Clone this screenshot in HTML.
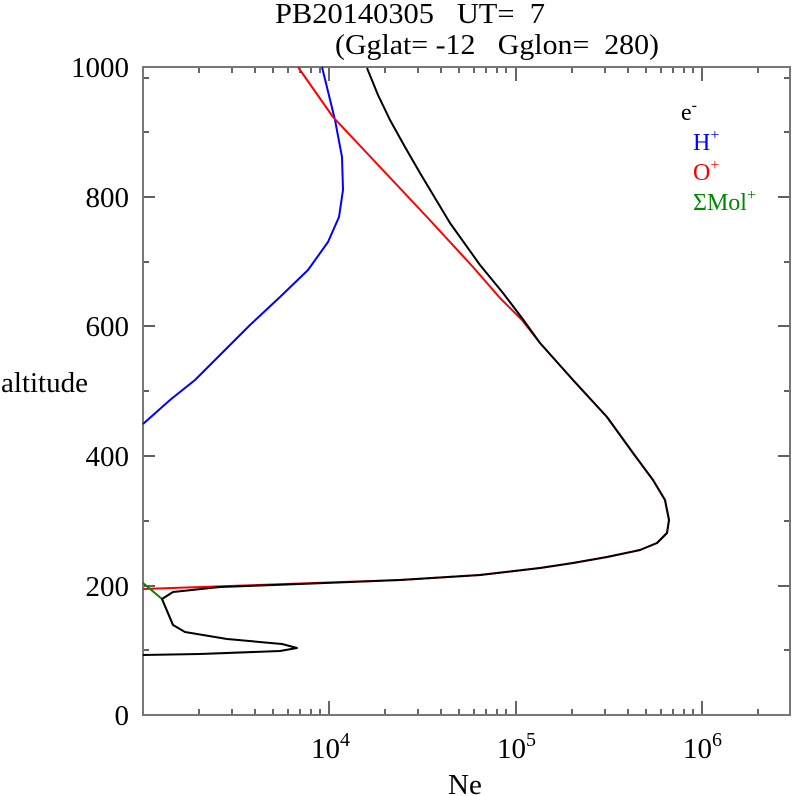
<!DOCTYPE html>
<html><head><style>body{margin:0;background:#fff}svg{display:block}text{font-family:"Liberation Serif",serif;white-space:pre}</style></head><body>
<svg width="792" height="796" xmlns="http://www.w3.org/2000/svg" xml:space="preserve">
<rect width="792" height="796" fill="#fff"/>
<text x="275" y="23" font-size="29" textLength="270" lengthAdjust="spacingAndGlyphs">PB20140305   UT=  7</text>
<text x="335" y="54" font-size="29" textLength="324" lengthAdjust="spacingAndGlyphs">(Gglat= -12   Gglon=  280)</text>
<g stroke="#000" stroke-width="1.2" fill="none">
<path d="M143,78h6M143,132h6M143,262h6M143,391h6M143,521h6M143,650h6M143,197h12M143,326h12M143,456h12M143,586h12"/>
<path d="M790,78h-6M790,132h-6M790,262h-6M790,391h-6M790,521h-6M790,650h-6M790,197h-12M790,326h-12M790,456h-12M790,586h-12"/>
<path id="xt" d="M199,715v-6M232,715v-6M255,715v-6M273,715v-6M288,715v-6M300,715v-6M311,715v-6M320,715v-6M329,715v-14M385,715v-6M418,715v-6M441,715v-6M459,715v-6M474,715v-6M486,715v-6M497,715v-6M506,715v-6M516,715v-14M572,715v-6M605,715v-6M628,715v-6M646,715v-6M661,715v-6M673,715v-6M684,715v-6M693,715v-6M702,715v-14M758,715v-6"/>
<use href="#xt" transform="translate(0,782) scale(1,-1)"/>
</g>
<rect x="143" y="67" width="647" height="648" fill="none" stroke="#777" stroke-width="2"/>
<g font-size="29" text-anchor="end">
<text x="129" y="77">1000</text><text x="129" y="207">800</text><text x="129" y="336">600</text><text x="129" y="466">400</text><text x="129" y="596">200</text><text x="129" y="725">0</text>
</g>
<text x="88" y="392" font-size="29" text-anchor="end">altitude</text>
<g font-size="29"><text x="311" y="758">10<tspan font-size="20" dy="-12">4</tspan></text><text x="497" y="758">10<tspan font-size="20" dy="-12">5</tspan></text><text x="683" y="758">10<tspan font-size="20" dy="-12">6</tspan></text></g>
<text x="448" y="794" font-size="29">Ne</text>
<g font-size="24">
<text x="681" y="120">e<tspan font-size="16" dy="-10">-</tspan></text>
<text x="693" y="150" fill="#00f">H<tspan font-size="16" dy="-10">+</tspan></text>
<text x="693" y="180" fill="#f00">O<tspan font-size="16" dy="-10">+</tspan></text>
<text x="693" y="210" fill="#080">ΣMol<tspan font-size="16" dy="-10">+</tspan></text>
</g>
<g fill="none" stroke-width="2" stroke-linejoin="round">
<path stroke="#00f" d="M322,67L335,120L342,157L343,190L339,217L328,242L308,270L280,297L250,325L220,355L195,380L170,400L143,424"/>
<path stroke="#f00" d="M298,67L333,117L380,167L427,217L473,267L500,298L522,320L540,343L573,380L607,417L633,453L653,480L665,500L669,520L667,533L657,543L640,550L607,557L573,563L540,568L480,575L400,580L143,589"/>
<path stroke="#080" d="M143,583L162,599L173,625"/>
<path stroke="#000" d="M367,68L378,95L390,120L405,147L420,173L450,223L480,265L503,293L522,318L540,343L573,380L607,417L633,453L653,480L665,500L669,520L667,533L657,543L640,550L607,557L573,563L540,568L480,575L400,580L300,584L220,587L173,592L162,599L173,625L185,632L227,639L282,644L297,648L280,651L200,654L143,655"/>
</g>
</svg>
</body></html>
